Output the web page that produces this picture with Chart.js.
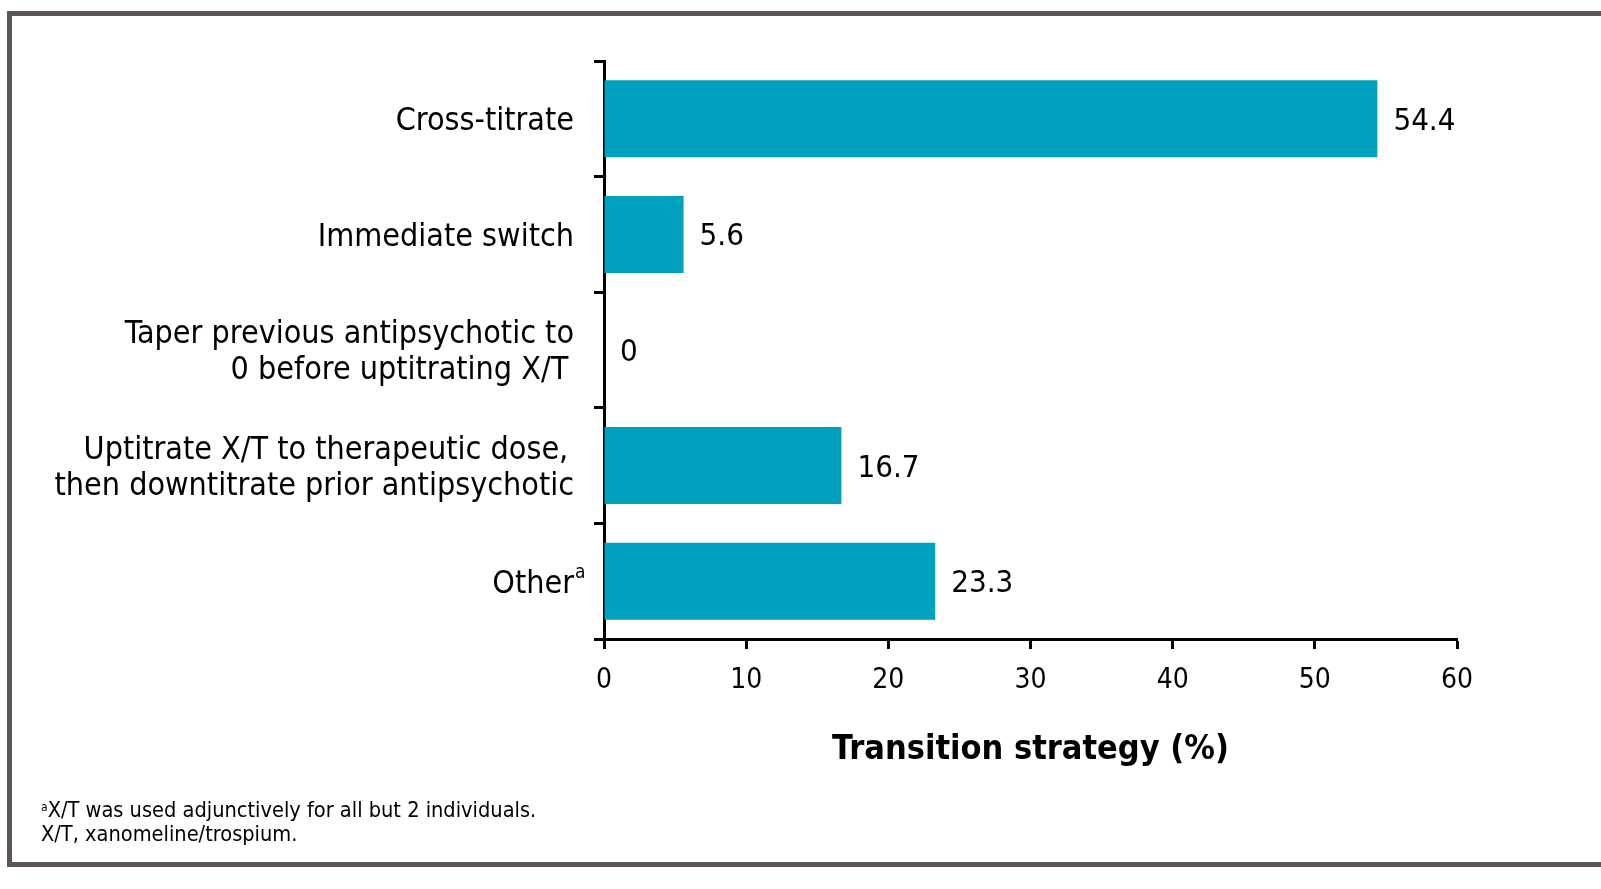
<!DOCTYPE html>
<html>
<head>
<meta charset="utf-8">
<script src="https://cdn.jsdelivr.net/npm/chart.js@4/dist/chart.umd.min.js"></script>
<style>
  html, body { margin: 0; padding: 0; background: #fff; }
  #wrap { position: relative; width: 1601px; height: 889px; overflow: hidden; }
  #frame { position: absolute; left: 7px; top: 11px; width: 1700px; height: 846px;
           border: 5px solid #5c5552; box-sizing: content-box; z-index: 0; }
  #c { position: absolute; left: 0; top: 0; z-index: 1; }
  #notes { position: absolute; left: 41px; top: 798px; z-index: 2;
           font-family: "DejaVu Sans Condensed", "DejaVu Sans", sans-serif; font-size: 21.6px;
           line-height: 24px; color: #000; }
  #notes sup { font-size: 12px; vertical-align: 6px; line-height: 0; }
</style>
</head>
<body>
<div id="wrap">
  <div id="frame"></div>
  <canvas id="c" width="1601" height="889"></canvas>
  <div id="notes"><div><sup>a</sup>X/T was used adjunctively for all but 2 individuals.</div><div>X/T, xanomeline/trospium.</div></div>
</div>
<script>
const categories = [
  ["Cross-titrate"],
  ["Immediate switch"],
  ["Taper previous antipsychotic to", "0 before uptitrating X/T\u2009"],
  ["Uptitrate X/T to therapeutic dose,\u2009", "then downtitrate prior antipsychotic"],
  ["Other"]
];
const values = [54.4, 5.6, 0, 16.7, 23.3];
const valueLabels = ["54.4", "5.6", "0", "16.7", "23.3"];
const xTicks = [0, 10, 20, 30, 40, 50, 60];
const axisTitle = "Transition strategy (%)";
const superscriptIndex = 4;

const FONT = '"DejaVu Sans Condensed", "DejaVu Sans", sans-serif';

const valuePlugin = {
  id: 'valueLabels',
  afterDatasetsDraw(chart) {
    const ctx = chart.ctx;
    const meta = chart.getDatasetMeta(0);
    const xs = chart.scales.x;
    ctx.save();
    ctx.font = '31px ' + FONT;
    ctx.fillStyle = '#000';
    ctx.textAlign = 'left';
    ctx.textBaseline = 'middle';
    meta.data.forEach((bar, i) => {
      const x = xs.getPixelForValue(values[i]) + 16;
      ctx.fillText(valueLabels[i], x, bar.y + 3);
    });
    // superscript "a" after the "Other" category label
    const ys = chart.scales.y;
    const yc = ys.getPixelForValue(superscriptIndex);
    ctx.font = '19px ' + FONT;
    ctx.fillText('a', 575, yc - 8);
    ctx.restore();
  }
};

function shiftLabels(scale, dy) {
  if (scale._shifted) return;
  scale._shifted = true;
  const orig = scale.drawLabels;
  scale.drawLabels = function (area) {
    const ctx = this.ctx;
    ctx.save();
    ctx.translate(0, dy);
    orig.call(this, area);
    ctx.restore();
  };
}

new Chart(document.getElementById('c'), {
  type: 'bar',
  data: {
    labels: categories,
    datasets: [{
      data: values,
      backgroundColor: '#00a0bf',
      borderWidth: 0,
      barPercentage: 0.666,
      categoryPercentage: 1.0
    }]
  },
  options: {
    indexAxis: 'y',
    responsive: false,
    animation: false,
    devicePixelRatio: 1,
    layout: { padding: { top: 61, right: 144, bottom: 0, left: 0 } },
    plugins: { legend: { display: false }, tooltip: { enabled: false } },
    scales: {
      x: {
        type: 'linear',
        min: 0, max: 60,
        afterBuildTicks(scale) { scale.ticks = xTicks.map(v => ({ value: v })); },
        afterFit(scale) { scale.height = 250; },
        border: { display: true, color: '#000', width: 3 },
        grid: { display: true, drawOnChartArea: false, drawTicks: true, tickLength: 10,
                tickWidth: 3, tickColor: '#000' },
        ticks: { color: '#000', padding: 15, font: { family: FONT, size: 28 } },
        title: { display: true, text: axisTitle, color: '#000',
                 font: { family: FONT, size: 34, weight: 'bold' },
                 padding: { top: 0, bottom: 118 } }
      },
      y: {
        type: 'category',
        afterFit(scale) { scale.width = 604; shiftLabels(scale, 3); },
        border: { display: true, color: '#000', width: 3 },
        grid: { display: true, offset: true, drawOnChartArea: false, drawTicks: true,
                tickLength: 10, tickWidth: 3, tickColor: '#000' },
        ticks: { color: '#000', padding: 20, autoSkip: false,
                 font: { family: FONT, size: 32, lineHeight: 1.13 } }
      }
    }
  },
  plugins: [valuePlugin]
});
</script>
</body>
</html>
